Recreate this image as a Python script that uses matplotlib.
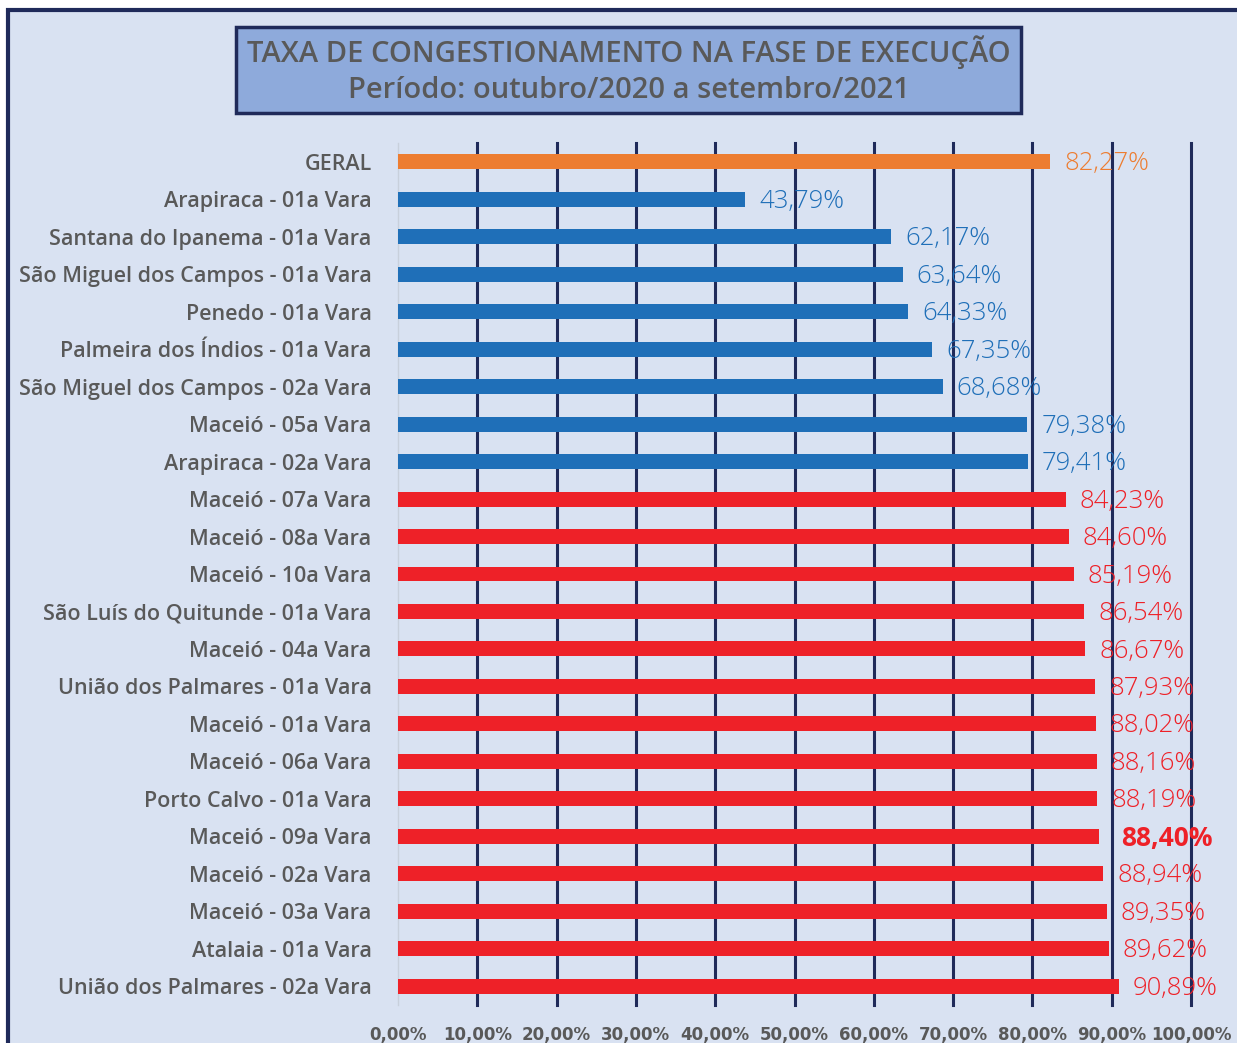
import matplotlib
matplotlib.use('Agg')
import matplotlib.pyplot as plt
from matplotlib.patches import Rectangle

categorias = ['GERAL', 'Arapiraca - 01a Vara', 'Santana do Ipanema - 01a Vara',
              'São Miguel dos Campos - 01a Vara', 'Penedo - 01a Vara',
              'Palmeira dos Índios - 01a Vara', 'São Miguel dos Campos - 02a Vara',
              'Maceió - 05a Vara', 'Arapiraca - 02a Vara', 'Maceió - 07a Vara',
              'Maceió - 08a Vara', 'Maceió - 10a Vara', 'São Luís do Quitunde - 01a Vara',
              'Maceió - 04a Vara', 'União dos Palmares - 01a Vara', 'Maceió - 01a Vara',
              'Maceió - 06a Vara', 'Porto Calvo - 01a Vara', 'Maceió - 09a Vara',
              'Maceió - 02a Vara', 'Maceió - 03a Vara', 'Atalaia - 01a Vara',
              'União dos Palmares - 02a Vara']
valores = [82.27, 43.79, 62.17, 63.64, 64.33, 67.35, 68.68, 79.38, 79.41, 84.23,
           84.60, 85.19, 86.54, 86.67, 87.93, 88.02, 88.16, 88.19, 88.40, 88.94,
           89.35, 89.62, 90.89]
grupos = ['geral'] + ['azul'] * 8 + ['vermelho'] * 14
destaque = 'Maceió - 09a Vara'
ticks = list(range(0, 101, 10))

cores = {'geral': '#ed7d31', 'azul': '#1f6fb8', 'vermelho': '#ee2128'}
fundo = '#d9e2f2'
marinho = '#1f2a5a'
cinza = '#595959'

plt.rcParams['font.family'] = ['Open Sans', 'DejaVu Sans']

fig = plt.figure(figsize=(12.37, 10.43), dpi=100, facecolor='white')
fig.patches.append(Rectangle((8 / 1237, -0.01), 1.0, 1 - 10 / 1043 + 0.01,
                             transform=fig.transFigure, facecolor=fundo,
                             edgecolor=marinho, linewidth=3, zorder=-2))

ax = fig.add_axes([398 / 1237, 1 - 1005 / 1043, 793 / 1237, 862 / 1043])
ax.patch.set_alpha(0)

y = list(range(len(categorias)))
ax.barh(y, valores, height=0.4, color=[cores[g] for g in grupos], zorder=3)
ax.set_ylim(len(categorias) - 0.5, -0.5)
ax.set_xlim(0, 100)

# linhas de grade verticais escuras
for v in ticks[1:]:
    ax.axvline(v, color=marinho, linewidth=2.2, zorder=2, clip_on=False)

for i, (c, v, g) in enumerate(zip(categorias, valores, grupos)):
    txt = ('%.2f%%' % v).replace('.', ',')
    if c == destaque:
        ax.annotate(txt, (v, i), xytext=(16, -1.5), textcoords='offset points',
                    va='center', ha='left', color=cores[g], fontsize=19,
                    fontweight='bold', zorder=4)
    else:
        ax.annotate(txt, (v, i), xytext=(10, -1.5), textcoords='offset points',
                    va='center', ha='left', color=cores[g], fontsize=18.5,
                    fontweight='light', zorder=4)

ax.set_yticks(y)
ax.set_yticklabels(categorias, fontsize=15.5, color=cinza, fontweight='semibold')
ax.set_xticks(ticks)
ax.set_xticklabels([('%.2f%%' % t).replace('.', ',') for t in ticks],
                   fontsize=12, color=cinza, fontweight='bold',
                   family='DejaVu Sans')
ax.tick_params(axis='y', length=0, pad=19)
ax.tick_params(axis='x', length=0, pad=15)
for s in ['top', 'right', 'bottom']:
    ax.spines[s].set_visible(False)
ax.spines['left'].set_color('#c8d0dc')
ax.spines['left'].set_linewidth(1)

fig.patches.append(Rectangle((236 / 1237, 1 - 113 / 1043), 785 / 1237, 86 / 1043,
                             transform=fig.transFigure, facecolor='#8eaadb',
                             edgecolor=marinho, linewidth=2.5, zorder=1))
fig.text(629 / 1237, 1 - 52 / 1043, 'TAXA DE CONGESTIONAMENTO NA FASE DE EXECUÇÃO',
         ha='center', va='center', fontsize=21, color=cinza, fontweight='semibold')
fig.text(629 / 1237, 1 - 90 / 1043, 'Período: outubro/2020 a setembro/2021',
         ha='center', va='center', fontsize=21, color=cinza, fontweight='semibold')

fig.savefig('out.png', dpi=100, facecolor=fig.get_facecolor())
